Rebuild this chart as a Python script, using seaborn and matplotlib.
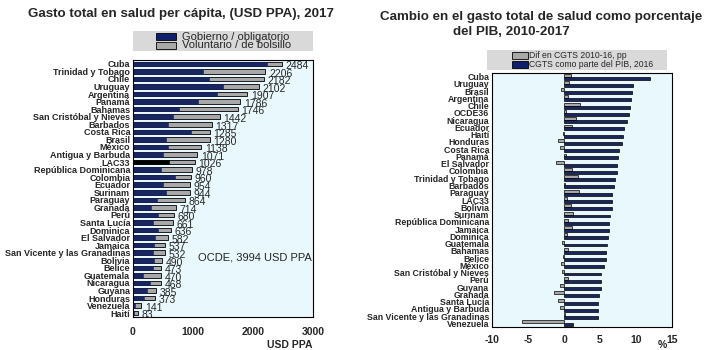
import matplotlib
matplotlib.use("Agg")
import matplotlib.pyplot as plt
import seaborn as sns
import pandas as pd
import numpy as np

sns.set_style("white")
plt.rcParams['font.family'] = ['Liberation Sans', 'DejaVu Sans']

# ---- Left panel data ----
countries_left = ["Cuba", "Trinidad y Tobago", "Chile", "Uruguay", "Argentina", "Panamá",
                  "Bahamas", "San Cristóbal y Nieves", "Barbados", "Costa Rica", "Brasil",
                  "México", "Antigua y Barbuda", "LAC33", "República Dominicana", "Colombia",
                  "Ecuador", "Surinam", "Paraguay", "Granada", "Perú", "Santa Lucía",
                  "Dominica", "El Salvador", "Jamaica", "San Vicente y las Granadinas",
                  "Bolivia", "Belice", "Guatemala", "Nicaragua", "Guyana", "Honduras",
                  "Venezuela", "Haití"]
total_left = [2484, 2206, 2182, 2102, 1907, 1786, 1746, 1442, 1317, 1285, 1280, 1138, 1071,
              1026, 978, 960, 954, 944, 864, 714, 680, 661, 636, 582, 537, 532, 490, 473,
              470, 468, 385, 373, 141, 83]
gov_left = [2233, 1167, 1267, 1500, 1400, 1083, 767, 667, 583, 967, 550, 583, 500,
            600, 467, 700, 500, 550, 400, 300, 417, 333, 417, 367, 350, 333, 350, 333,
            167, 283, 233, 183, 33, 15]

# ---- Right panel data ----
countries_right = ["Cuba", "Uruguay", "Brasil", "Argentina", "Chile", "OCDE36", "Nicaragua",
                   "Ecuador", "Haití", "Honduras", "Costa Rica", "Panamá", "El Salvador",
                   "Colombia", "Trinidad y Tobago", "Barbados", "Paraguay", "LAC33", "Bolivia",
                   "Surinam", "República Dominicana", "Jamaica", "Dominica", "Guatemala",
                   "Bahamas", "Belice", "México", "San Cristóbal y Nieves", "Perú", "Guyana",
                   "Granada", "Santa Lucía", "Antigua y Barbuda", "San Vicente y las Granadinas",
                   "Venezuela"]
dif_right = [1.0, 0.7, -0.4, 0.5, 2.2, 0.3, 1.6, 1.1, -0.2, -0.8, -0.6, 0.3, -1.1, 1.1,
             2.0, 0.2, 2.1, 0.4, 1.0, 1.3, 0.6, 1.1, 0.4, -0.3, 0.5, -0.1, -0.4, -0.3,
             0.5, -0.5, -1.4, -0.8, -0.6, 0.2, -5.8]
cgts_right = [12.0, 9.6, 9.4, 9.3, 9.1, 9.0, 8.8, 8.4, 8.2, 8.0, 7.7, 7.5, 7.3, 7.3,
              7.1, 7.0, 6.7, 6.7, 6.6, 6.4, 6.3, 6.2, 6.1, 6.0, 5.9, 5.8, 5.6, 5.1,
              5.1, 5.1, 4.9, 4.7, 4.7, 4.7, 1.2]

series_names = ["Dif en CGTS 2010-16, pp", "CGTS como parte del PIB, 2016"]

NAVY = "#0f1f6b"
GRAY = "#a8a8a8"
BG = "#e9f8fc"

fig = plt.figure(figsize=(7.2, 3.5), dpi=100)
W, H = 720, 350

def ax_rect(x0, y0, x1, y1):
    return [x0 / W, 1 - y1 / H, (x1 - x0) / W, (y1 - y0) / H]

# ---------------- Left panel ----------------
axL = fig.add_axes(ax_rect(133, 60, 313, 317))
dfL = pd.DataFrame({"country": countries_left, "total": total_left, "gov": gov_left})
sns.barplot(data=dfL, x="total", y="country", color=GRAY, edgecolor="black",
            linewidth=0.6, width=0.6, ax=axL, orient="h")
sns.barplot(data=dfL, x="gov", y="country", color=NAVY, edgecolor=NAVY,
            linewidth=0.4, width=0.6, ax=axL, orient="h")
n = len(countries_left)
idx = countries_left.index("LAC33")
axL.patches[n + idx].set_facecolor("black")
axL.patches[n + idx].set_edgecolor("black")
axL.set_facecolor(BG)
axL.set_xlim(0, 3000)
axL.set_ylim(n - 0.5, -0.5)
axL.set_xticks([0, 1000, 2000, 3000])
axL.set_xticklabels(["0", "1000", "2000", "3000"], fontsize=7.5, fontweight="bold")
axL.set_yticks(range(n))
axL.set_yticklabels(countries_left, fontsize=6.5, fontweight="bold")
axL.tick_params(axis="y", length=0, pad=2)
axL.tick_params(axis="x", length=2, pad=5)
axL.set_xlabel("")
axL.set_ylabel("")
for s in axL.spines.values():
    s.set_linewidth(0.8)
    s.set_color("black")
for i, v in enumerate(total_left):
    axL.text(v + 60, i + 0.3, str(v), fontsize=7.5, va="center", ha="left")
axL.text(0.36, 0.23, "OCDE, 3994 USD PPA", transform=axL.transAxes, fontsize=8, va="center")
fig.text(290 / W, 1 - 345 / H, "USD PPA", fontsize=7.5, fontweight="bold", ha="center", va="center")
fig.text(181 / W, 1 - 14 / H, "Gasto total en salud per cápita, (USD PPA), 2017",
         fontsize=9.6, fontweight="bold", ha="center", va="center")

legL = fig.add_axes(ax_rect(133, 31, 313, 51))
legL.set_facecolor("#d9d9d9")
legL.set_xticks([]); legL.set_yticks([])
for s in legL.spines.values():
    s.set_visible(False)
legL.set_xlim(0, 1); legL.set_ylim(0, 1)
legL.add_patch(plt.Rectangle((0.13, 0.55), 0.11, 0.33, facecolor=NAVY, edgecolor="black", lw=0.6))
legL.add_patch(plt.Rectangle((0.13, 0.12), 0.11, 0.33, facecolor=GRAY, edgecolor="black", lw=0.6))
legL.text(0.27, 0.72, "Gobierno / obligatorio", fontsize=8, va="center")
legL.text(0.27, 0.28, "Voluntario / de bolsillo", fontsize=8, va="center")

# ---------------- Right panel ----------------
axR = fig.add_axes(ax_rect(492, 73, 672, 327))
dfR = pd.DataFrame({
    "country": countries_right * 2,
    "value": dif_right + cgts_right,
    "serie": [series_names[0]] * len(countries_right) + [series_names[1]] * len(countries_right),
})
sns.barplot(data=dfR, x="value", y="country", hue="serie", hue_order=series_names,
            palette=[GRAY, NAVY], edgecolor="black", linewidth=0.5, width=0.8,
            ax=axR, orient="h", legend=False)
m = len(countries_right)
axR.set_facecolor(BG)
axR.set_xlim(-10, 15)
axR.set_ylim(m - 0.5, -0.5)
axR.set_xticks([-10, -5, 0, 5, 10, 15])
axR.set_xticklabels(["-10", "-5", "0", "5", "10", "15"], fontsize=7.5, fontweight="bold")
axR.set_yticks(range(m))
axR.set_yticklabels(countries_right, fontsize=6.3, fontweight="bold")
axR.tick_params(axis="y", length=0, pad=2)
axR.tick_params(axis="x", length=2, pad=4)
axR.set_xlabel("")
axR.set_ylabel("")
for s in axR.spines.values():
    s.set_linewidth(0.8)
    s.set_color("black")
fig.text(662 / W, 1 - 345 / H, "%", fontsize=7.5, fontweight="bold", ha="center", va="center")
fig.text(541 / W, 1 - 17 / H, "Cambio en el gasto total de salud como porcentaje",
         fontsize=9.6, fontweight="bold", ha="center", va="center")
fig.text(511 / W, 1 - 32 / H, "del PIB, 2010-2017",
         fontsize=9.6, fontweight="bold", ha="center", va="center")

legR = fig.add_axes(ax_rect(487, 50, 667, 70))
legR.set_facecolor("#d9d9d9")
legR.set_xticks([]); legR.set_yticks([])
for s in legR.spines.values():
    s.set_visible(False)
legR.set_xlim(0, 1); legR.set_ylim(0, 1)
legR.add_patch(plt.Rectangle((0.14, 0.55), 0.085, 0.33, facecolor=GRAY, edgecolor="black", lw=0.6))
legR.add_patch(plt.Rectangle((0.14, 0.12), 0.085, 0.33, facecolor=NAVY, edgecolor="black", lw=0.6))
legR.text(0.235, 0.72, "Dif en CGTS 2010-16, pp", fontsize=6.2, va="center")
legR.text(0.235, 0.28, "CGTS como parte del PIB, 2016", fontsize=6.2, va="center")

fig.savefig("out.png", dpi=100, facecolor="white")
